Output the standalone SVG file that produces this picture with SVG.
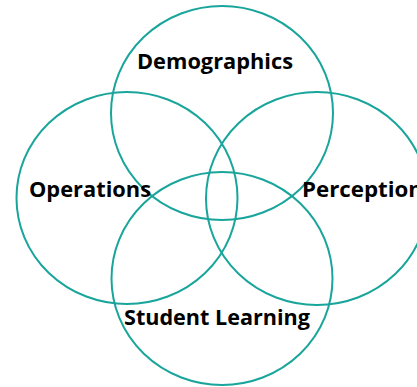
<svg xmlns="http://www.w3.org/2000/svg" width="417" height="387" viewBox="0 0 417 387">
<style>
.c{fill:none;stroke:#19A59B;stroke-width:2}
.t{font-family:"Open Sans","Liberation Sans",sans-serif;font-weight:bold;font-size:21px;fill:#000}
</style>
<rect width="417" height="387" fill="#fff"/>
<g id="connectors"></g>
<g id="demographics"><ellipse class="c" cx="222" cy="113" rx="111" ry="107"/></g>
<g id="operations"><ellipse class="c" cx="127" cy="198" rx="110.5" ry="106"/></g>
<g id="perception"><ellipse class="c" cx="317" cy="198.5" rx="111" ry="106.5"/></g>
<g id="student-learning"><ellipse class="c" cx="222" cy="278.5" rx="110.5" ry="106.5"/></g>
<g id="labels">
<text class="t" x="137" y="69" textLength="156" lengthAdjust="spacingAndGlyphs">Demographics</text>
<text class="t" x="29" y="197" textLength="122" lengthAdjust="spacingAndGlyphs">Operations</text>
<text class="t" x="302" y="197" textLength="121" lengthAdjust="spacingAndGlyphs">Perception</text>
<text class="t" x="124" y="325" textLength="186" lengthAdjust="spacingAndGlyphs">Student Learning</text>
</g>
</svg>
